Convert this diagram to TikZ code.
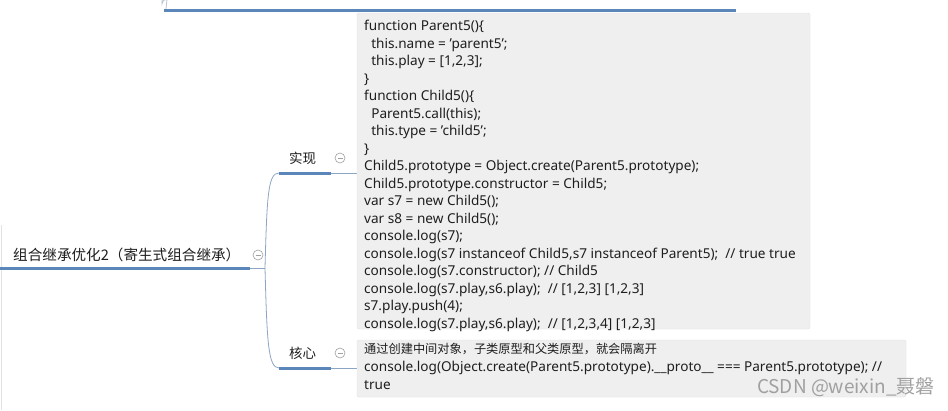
\documentclass[tikz,border=0pt]{standalone}
\usepackage{fontspec}
\setmainfont{Noto Sans}
\newfontfamily\cjk{Noto Sans CJK SC}
\definecolor{ulblue}{HTML}{5B86BA}
\definecolor{branch}{HTML}{8CA5C4}
\definecolor{boxfill}{HTML}{EFEFEF}
\definecolor{boxline}{HTML}{E2E2E2}
\definecolor{edge}{HTML}{B8C4D2}
\definecolor{txt}{HTML}{1E1E1E}
\definecolor{markgray}{HTML}{A0A0A0}
\definecolor{wm}{HTML}{A0A0A0}
\tikzset{
  underline/.style={draw=ulblue, line width=3pt},
  thin branch/.style={draw=branch, line width=0.8pt},
  codebox/.style={fill=boxfill, draw=boxline, rounded corners=2pt},
  codetext/.style={text=txt, font=\fontsize{13.6}{17.5}\selectfont, align=left, inner sep=0pt, anchor=north west},
  label cn/.style={text=txt, font=\cjk\fontsize{13.5}{16}\selectfont, inner sep=0pt},
  collapse/.style={circle, draw=markgray, line width=0.6pt, minimum size=10pt, inner sep=0pt,
    path picture={\draw[draw=markgray, line width=0.6pt] ([xshift=-2.5pt]path picture bounding box.center) -- ([xshift=2.5pt]path picture bounding box.center);}},
}
\begin{document}
\begin{tikzpicture}[x=1pt, y=-1pt]
\useasboundingbox (0,0) rectangle (948,410);
\fill[white] (0,0) rectangle (948,410);

% top (cut-off) box
\draw[draw=edge, line width=0.8pt] (162,-2) -- (162,4) arc[start angle=180, end angle=270, radius=5] -- (166,9);
\draw[underline] (164,10) -- (736,10);

% faint left edge
\draw[draw=boxline, line width=0.6pt] (1,225) -- (1,410);

% main node
\node[label cn, font=\cjk\fontsize{14.6}{16}\selectfont, anchor=west] (main) at (13,255) {组合继承优化2（寄生式组合继承）};
\draw[underline] (0,268) -- (250,268);
\coordinate (junction) at (265,268);
\draw[thin branch] (250,268) -- (junction);
\node[collapse] (c0) at (258,255) {};

% branches
\coordinate (b1) at (279,173);
\coordinate (b2) at (279,368);
\draw[thin branch] (junction) .. controls (267,195) and (268,173) .. (b1);
\draw[thin branch] (junction) .. controls (267,341) and (268,368) .. (b2);

% 实现
\node[label cn, anchor=west] (impl) at (289,158) {实现};
\draw[underline] (b1) -- (331,173);
\draw[thin branch] (331,173) -- (357,173);
\node[collapse] (c1) at (340,158) {};

% 核心
\node[label cn, anchor=west] (core) at (289,353) {核心};
\draw[underline] (b2) -- (331,368);
\draw[thin branch] (331,368) -- (357,368);
\node[collapse] (c2) at (340,353) {};

% code box 1
\draw[codebox] (357,13) rectangle (810,329);
\node[codetext] (code) at (364,20) {%
function Parent5()\{\\
\ \ this.name = 'parent5';\\
\ \ this.play = [1,2,3];\\
\}\\
function Child5()\{\\
\ \ Parent5.call(this);\\
\ \ this.type = 'child5';\\
\}\\
Child5.prototype = Object.create(Parent5.prototype);\\
Child5.prototype.constructor = Child5;\\
var s7 = new Child5();\\
var s8 = new Child5();\\
console.log(s7);\\
console.log(s7 instanceof Child5,s7 instanceof Parent5);\ \ // true true\\
console.log(s7.constructor); // Child5\\
console.log(s7.play,s6.play);\ \ // [1,2,3] [1,2,3]\\
s7.play.push(4);\\
console.log(s7.play,s6.play);\ \ // [1,2,3,4] [1,2,3]};

% code box 2
\draw[codebox] (357,340) rectangle (906,397);
\node[codetext, font=\fontsize{13.6}{18}\selectfont] (note) at (364,343) {%
{\cjk\fontsize{12.2}{18}\selectfont 通过创建中间对象，子类原型和父类原型，就会隔离开}\\
console.log(Object.create(Parent5.prototype).\_\_proto\_\_ === Parent5.prototype); //\\
true};

% watermark
\node[text=wm, font=\cjk\fontsize{19}{20}\selectfont, anchor=east, inner sep=0pt] (wmark) at (935,387) {CSDN @weixin\_聂磐};
\end{tikzpicture}
\end{document}
